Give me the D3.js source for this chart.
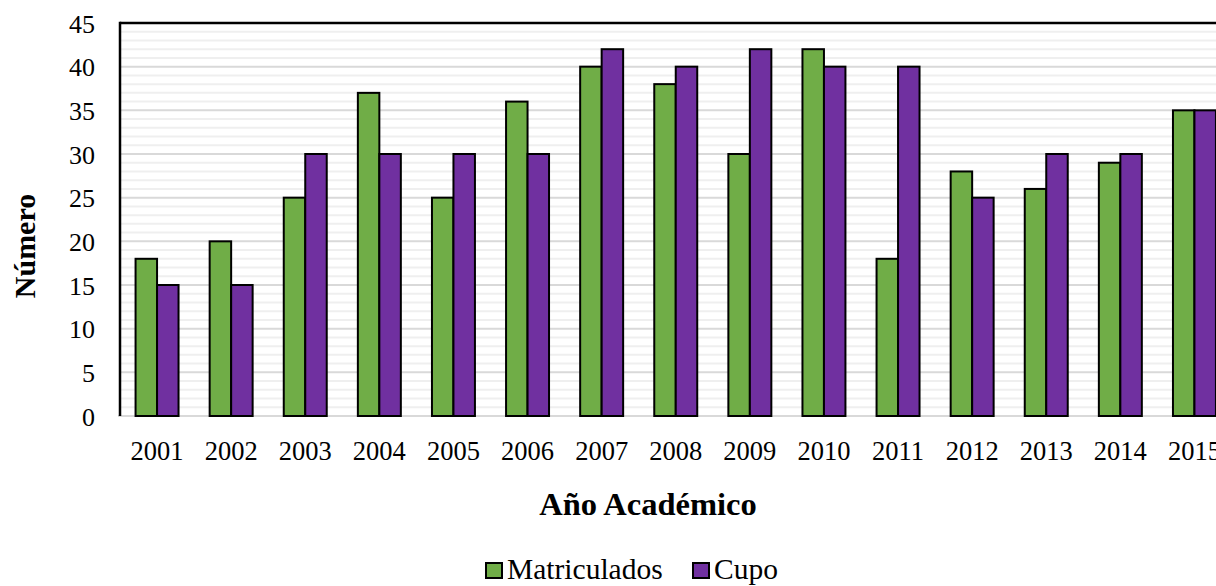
<!DOCTYPE html>
<html>
<head>
<meta charset="utf-8">
<script src="https://cdn.jsdelivr.net/npm/d3@7"></script>
<style>
  html, body { margin: 0; padding: 0; background: #fff; }
  svg { display: block; }
  text { font-family: "Liberation Serif", "Times New Roman", serif; fill: #000; }
</style>
</head>
<body>
<svg id="chart" width="1216" height="586"></svg>
<script>
// Academic years on the horizontal axis
const years = ["2001","2002","2003","2004","2005","2006","2007","2008","2009","2010","2011","2012","2013","2014","2015"];
// Enrolled students per year
const matriculados = [18, 20, 25, 37, 25, 36, 40, 38, 30, 42, 18, 28, 26, 29, 35];
// Available places per year
const cupo = [15, 15, 30, 30, 30, 30, 42, 40, 42, 40, 40, 25, 30, 30, 35];
// Series names and colours
const seriesNames = ["Matriculados", "Cupo"];
const seriesColors = ["#70AD47", "#7030A0"];
// Value axis ticks
const yTicks = [0, 5, 10, 15, 20, 25, 30, 35, 40, 45];

const svg = d3.select("#chart");
const plotLeft = 120, plotTop = 23, plotBottom = 416, step = 74.1;
const plotRight = plotLeft + years.length * step;

const x = d3.scaleBand().domain(years).range([plotLeft, plotRight])
  .paddingInner(0.42).paddingOuter(0.21);
const xs = d3.scaleBand().domain(seriesNames).range([0, x.bandwidth()]);
const y = d3.scaleLinear().domain([0, 45]).range([plotBottom, plotTop]);

// Minor gridlines every unit, major every five
const minor = d3.range(1, 45).filter(v => v % 5 !== 0);
svg.append("g").selectAll("line").data(minor).join("line")
  .attr("x1", plotLeft).attr("x2", 1216)
  .attr("y1", d => y(d)).attr("y2", d => y(d))
  .attr("stroke", "#efefef").attr("stroke-width", 2);
svg.append("g").selectAll("line").data(yTicks.filter(v => v > 0 && v < 45)).join("line")
  .attr("x1", plotLeft).attr("x2", 1216)
  .attr("y1", d => y(d)).attr("y2", d => y(d))
  .attr("stroke", "#d9d9d9").attr("stroke-width", 2);

// Category axis baseline
svg.append("line")
  .attr("x1", plotLeft - 2).attr("x2", 1216)
  .attr("y1", y(0)).attr("y2", y(0))
  .attr("stroke", "#d9d9d9").attr("stroke-width", 2);

// Bars
const rows = years.map((yr, i) => ({ year: yr, values: [matriculados[i], cupo[i]] }));
const groups = svg.append("g").selectAll("g").data(rows).join("g")
  .attr("transform", d => `translate(${x(d.year)},0)`);
groups.selectAll("rect")
  .data(d => d.values.map((v, j) => ({ name: seriesNames[j], value: v, color: seriesColors[j] })))
  .join("rect")
  .attr("x", d => xs(d.name))
  .attr("width", xs.bandwidth())
  .attr("y", d => y(d.value))
  .attr("height", d => y(0) - y(d.value))
  .attr("fill", d => d.color)
  .attr("stroke", "#000").attr("stroke-width", 2);

// Plot frame: top and left edges
svg.append("line").attr("x1", plotLeft).attr("x2", 1216).attr("y1", plotTop).attr("y2", plotTop)
  .attr("stroke", "#000").attr("stroke-width", 2.5);
svg.append("line").attr("x1", plotLeft).attr("x2", plotLeft).attr("y1", plotTop - 1.2).attr("y2", plotBottom)
  .attr("stroke", "#000").attr("stroke-width", 2.5);

// Value axis labels
const yAxis = d3.axisLeft(y).tickValues(yTicks).tickSize(0).tickPadding(25);
const gy = svg.append("g").attr("transform", `translate(${plotLeft},0)`).call(yAxis);
gy.select(".domain").remove();
gy.selectAll("text").style("font-family", "Liberation Serif").style("font-size", "26px").attr("dy", "0.35em");

// Category axis labels
const xAxis = d3.axisBottom(x).tickSize(0).tickPadding(25);
const gx = svg.append("g").attr("transform", `translate(0,${plotBottom})`).call(xAxis);
gx.select(".domain").remove();
gx.selectAll("text").style("font-family", "Liberation Serif").style("font-size", "26.5px").attr("dy", "0.7em");

// Axis titles
svg.append("text").attr("x", 648).attr("y", 515).attr("text-anchor", "middle")
  .style("font-size", "32.5px").style("font-weight", "bold").text("Año Académico");
svg.append("text").attr("transform", "translate(35,246) rotate(-90)").attr("text-anchor", "middle")
  .style("font-size", "30px").style("font-weight", "bold").text("Número");

// Legend
const legend = svg.append("g");
const legendX = [486, 693];
seriesNames.forEach((name, i) => {
  const g = legend.append("g").attr("transform", `translate(${legendX[i]},563)`);
  g.append("rect").attr("width", 16).attr("height", 15)
    .attr("fill", seriesColors[i]).attr("stroke", "#000").attr("stroke-width", 2);
  g.append("text").attr("x", 21).attr("y", 16).style("font-size", "29.5px").text(name);
});
</script>
</body>
</html>
